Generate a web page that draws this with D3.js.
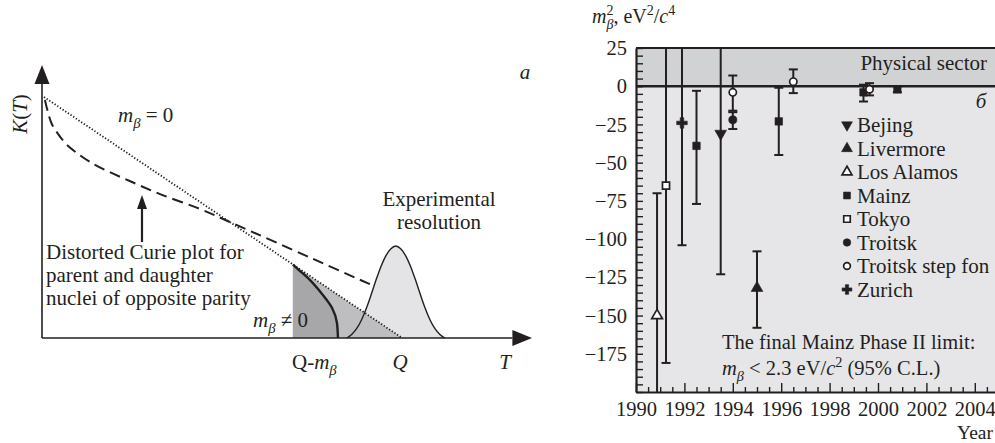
<!DOCTYPE html>
<html><head><meta charset="utf-8">
<script src="https://cdn.jsdelivr.net/npm/d3@7"></script>
<style>
body{margin:0;background:#fff}
svg{display:block}
svg text{font-family:"Liberation Serif","Tinos","Times New Roman","Nimbus Roman","DejaVu Serif",serif !important;fill:#231f20;white-space:pre}
</style>
</head><body>
<svg id="c" width="995" height="443" font-family="Liberation Serif, Times New Roman, DejaVu Serif, serif"></svg>
<script>
// ================= DATA =================
// Panel a (schematic, arbitrary units: T 0..100, K 0..100)
const curieT = [0.4, 73.5];
const curieK = [88.3, 0];
const distortedT = [0.6, 1.2, 2.0, 3.3, 4.9, 7.1, 9.8, 13.3, 17.9, 24.1, 32.2, 39.2, 55.3, 67.3];
const distortedK = [87.2, 82.8, 78.4, 74.7, 71.1, 67.8, 64.5, 61.2, 57.5, 52.7, 47.3, 41.8, 29.0, 19.4];
const massiveT = [51.2, 52.5, 54.7, 57.3, 59.2, 60.2, 60.4];
const massiveK = [26.9, 24.8, 21.2, 15.8, 11.0, 5.5, 0];
const resolutionT = [62.2, 63.2, 64.2, 65.2, 66.2, 67.2, 68.2, 69.2, 70.2, 71.2, 72.2, 73.2, 74.2, 75.2, 76.2, 77.2, 78.2, 79.2, 80.2, 81.2, 82.2];
const resolutionK = [0, 1.3, 3.4, 6.6, 10.9, 16.0, 21.4, 26.3, 30.2, 32.7, 33.7, 32.7, 30.2, 26.3, 21.4, 16.0, 10.9, 6.6, 3.4, 1.3, 0];

// Panel б (measurements)
const labs = ["Bejing", "Livermore", "Los Alamos", "Mainz", "Tokyo", "Troitsk", "Troitsk step fon", "Zurich"];
const pointLab  = ["Los Alamos", "Tokyo", "Zurich", "Mainz", "Bejing", "Troitsk step fon", "Troitsk", "Livermore", "Mainz", "Troitsk step fon", "Mainz", "Troitsk step fon", "Mainz"];
const pointYear = [1990.87, 1991.24, 1991.9, 1992.5, 1993.5, 1994.0, 1994.0, 1995.0, 1995.9, 1996.5, 1999.4, 1999.65, 2000.8];
const pointM2   = [-150, -65, -24, -39, -31, -4, -22, -132, -23, 3, -4, -2, -2];
const errHigh   = [-70, 60, 60, -3, 60, 7, -17, -108, -1, 11, 1, 2, 0];
const errLow    = [-240, -181, -104, -77, -123, -16, -28, -158, -45, -4.5, -10, -6, -4];
const yTickLabels = [25, 0, -25, -50, -75, -100, -125, -150, -175];
const xTickLabels = [1990, 1992, 1994, 1996, 1998, 2000, 2002, 2004];

// ================= DRAW =================
const ink = "#231f20";
const FONT = "Liberation Serif, Times New Roman, DejaVu Serif, serif";
const svg = d3.select("#c");

function rich(parent, x, y, parts, size, anchor) {
  const g = parent.append("g");
  let cx = 0, stackStart = null, stackW = 0;
  parts.forEach(p => {
    const fs = p.s ? size * 0.7 : size;
    const dy = p.s === "sup" ? -size * 0.4 : p.s === "sub" ? size * 0.3 : 0;
    const startX = stackStart !== null ? stackStart : cx;
    const t = g.append("text").attr("x", startX).attr("y", dy)
      .attr("font-size", fs).attr("xml:space", "preserve").attr("font-family", FONT)
      .attr("font-style", p.i ? "italic" : "normal").text(p.t);
    const w = t.node().getComputedTextLength();
    if (p.stack) { stackStart = startX; stackW = w; cx = startX + w; }
    else if (stackStart !== null) { cx = startX + Math.max(w, stackW); stackStart = null; }
    else cx = startX + w;
  });
  const off = anchor === "end" ? -cx : anchor === "middle" ? -cx / 2 : 0;
  g.attr("transform", `translate(${x + off},${y})`);
  return g;
}
function txt(g, x, y, s, size, anchor, italic) {
  return g.append("text").attr("x", x).attr("y", y).attr("text-anchor", anchor || "start")
    .attr("font-size", size).attr("font-family", FONT).attr("font-style", italic ? "italic" : "normal").text(s);
}

// ---------- Panel a ----------
const xL = d3.scaleLinear().domain([0, 100]).range([42, 532]);
const yL = d3.scaleLinear().domain([0, 100]).range([338, 65]);
const gA = svg.append("g");
const lineL = d3.line().x(d => xL(d[0])).y(d => yL(d[1]));

const resPts = resolutionT.map((t, i) => [t, resolutionK[i]]);
const massPts = massiveT.map((t, i) => [t, massiveK[i]]);
const distPts = distortedT.map((t, i) => [t, distortedK[i]]);
const curiePts = curieT.map((t, i) => [t, curieK[i]]);

gA.append("path").datum(resPts)
  .attr("d", d3.line().x(d => xL(d[0])).y(d => yL(d[1])).curve(d3.curveMonotoneX))
  .attr("fill", "#e4e4e6").attr("stroke", "none");
const k0 = curieK[0] + (curieK[1] - curieK[0]) * (massiveT[0] - curieT[0]) / (curieT[1] - curieT[0]);
gA.append("path").datum([[massiveT[0], 0], [massiveT[0], k0], [curieT[1], 0]])
  .attr("d", lineL).attr("fill", "#bebec0");
gA.append("path").datum([[massiveT[0], 0]].concat(massPts))
  .attr("d", d3.line().x(d => xL(d[0])).y(d => yL(d[1])).curve(d3.curveMonotoneY))
  .attr("fill", "#a7a7a9");
gA.append("path").datum(resPts)
  .attr("d", d3.line().x(d => xL(d[0])).y(d => yL(d[1])).curve(d3.curveMonotoneX))
  .attr("fill", "none").attr("stroke", ink).attr("stroke-width", 1.4);
gA.append("path").datum(massPts)
  .attr("d", d3.line().x(d => xL(d[0])).y(d => yL(d[1])).curve(d3.curveMonotoneY))
  .attr("fill", "none").attr("stroke", ink).attr("stroke-width", 2.4);
gA.append("path").datum(curiePts).attr("d", lineL)
  .attr("fill", "none").attr("stroke", ink).attr("stroke-width", 1.8).attr("stroke-dasharray", "1.3,1.9");
gA.append("path").datum(distPts)
  .attr("d", d3.line().x(d => xL(d[0])).y(d => yL(d[1])).curve(d3.curveCatmullRom))
  .attr("fill", "none").attr("stroke", ink).attr("stroke-width", 2).attr("stroke-dasharray", "11,6");

gA.append("line").attr("x1", xL(0)).attr("x2", xL(0)).attr("y1", yL(0)).attr("y2", yL(93))
  .attr("stroke", ink).attr("stroke-width", 1.6);
gA.append("line").attr("x1", xL(0)).attr("x2", xL(96)).attr("y1", yL(0)).attr("y2", yL(0))
  .attr("stroke", ink).attr("stroke-width", 1.6);
gA.append("path").attr("d", `M${xL(0)},${yL(100)} L${xL(0) - 7.5},${yL(93)} L${xL(0) + 7.5},${yL(93)} Z`).attr("fill", ink);
gA.append("path").attr("d", `M${xL(100)},${yL(0)} L${xL(96)},${yL(0) - 8} L${xL(96)},${yL(0) + 8} Z`).attr("fill", ink);

gA.append("line").attr("x1", 142).attr("x2", 142).attr("y1", 242).attr("y2", 205)
  .attr("stroke", ink).attr("stroke-width", 2.2);
gA.append("path").attr("d", "M142,195 L137,209 L147,209 Z").attr("fill", ink);

const fsA = 21;
const kt = gA.append("text").attr("transform", "translate(27,114) rotate(-90)")
  .attr("text-anchor", "middle").attr("font-size", fsA).attr("font-family", FONT);
kt.append("tspan").attr("font-style", "italic").text("K");
kt.append("tspan").text("(");
kt.append("tspan").attr("font-style", "italic").text("T");
kt.append("tspan").text(")");
rich(gA, 118, 122, [{t: "m", i: true}, {t: "β", i: true, s: "sub"}, {t: " = 0"}], fsA);
rich(gA, 253, 327, [{t: "m", i: true}, {t: "β", i: true, s: "sub"}, {t: " ≠ 0"}], fsA);
rich(gA, 292, 369, [{t: "Q-"}, {t: "m", i: true}, {t: "β", i: true, s: "sub"}], fsA);
txt(gA, 400, 369, "Q", fsA, "middle", true);
txt(gA, 505, 369, "T", fsA, "middle", true);
txt(gA, 525, 79, "a", fsA, "middle", true);
["Experimental", "resolution"].forEach((s, i) => txt(gA, 439, 206 + i * 23, s, fsA, "middle"));
["Distorted Curie plot for", "parent and daughter", "nuclei of opposite parity"].forEach((s, i) =>
  txt(gA, 46, 259 + i * 23, s, fsA));

// ---------- Panel б ----------
const x = d3.scaleLinear().domain([1990, 2005]).range([636, 999]);
const y = d3.scaleLinear().domain([-200, 25]).range([392, 48]);
const gB = svg.append("g");

gB.append("rect").attr("x", x(1990)).attr("y", y(25)).attr("width", x(2005) - x(1990)).attr("height", y(0) - y(25)).attr("fill", "#d1d2d4");
gB.append("rect").attr("x", x(1990)).attr("y", y(0)).attr("width", x(2005) - x(1990)).attr("height", y(-200) - y(0)).attr("fill", "#e6e6e8");

svg.append("defs").append("clipPath").attr("id", "clipB")
  .append("rect").attr("x", x(1990)).attr("y", y(25)).attr("width", x(2005) - x(1990)).attr("height", y(-200) - y(25));

const yTicks = d3.range(-200, 26, 5);
const yAx = gB.append("g").attr("transform", `translate(${x(1990)},0)`)
  .call(d3.axisLeft(y).tickValues(yTicks).tickSizeInner(-7).tickSizeOuter(0).tickPadding(9)
    .tickFormat(d => yTickLabels.includes(d) ? (d < 0 ? "−" + Math.abs(d) : String(d)) : ""));
yAx.attr("font-family", FONT);
yAx.select(".domain").attr("stroke", ink).attr("stroke-width", 2.2);
yAx.selectAll(".tick line").attr("stroke", ink).attr("stroke-width", 1.4);
yAx.selectAll(".tick text").attr("font-size", 20.5).attr("font-family", FONT).attr("fill", ink);

const xTicks = d3.range(1990, 2005.01, 0.5);
const xAx = gB.append("g").attr("transform", `translate(0,${y(-200)})`)
  .call(d3.axisBottom(x).tickValues(xTicks).tickSizeInner(-5).tickSizeOuter(0).tickPadding(9)
    .tickFormat(d => xTickLabels.includes(d) ? String(d) : ""));
xAx.attr("font-family", FONT);
xAx.select(".domain").attr("stroke", ink).attr("stroke-width", 2.2);
xAx.selectAll(".tick line").attr("stroke", ink).attr("stroke-width", 1.4)
  .attr("y2", d => (d % 2 === 0 ? -9 : -5));
xAx.selectAll(".tick text").attr("font-size", 20.5).attr("font-family", FONT).attr("fill", ink);

gB.append("line").attr("x1", x(1990)).attr("x2", x(2005)).attr("y1", y(25)).attr("y2", y(25)).attr("stroke", ink).attr("stroke-width", 2.2);
gB.append("line").attr("x1", x(1990)).attr("x2", x(2005)).attr("y1", y(0)).attr("y2", y(0)).attr("stroke", ink).attr("stroke-width", 2.6);

const markerStyle = {
  "Bejing": {type: d3.symbolTriangle, size: 60, rot: 180, fill: ink},
  "Livermore": {type: d3.symbolTriangle, size: 60, rot: 0, fill: ink},
  "Los Alamos": {type: d3.symbolTriangle, size: 50, rot: 0, fill: "#fff"},
  "Mainz": {type: d3.symbolSquare, size: 56, rot: 0, fill: ink},
  "Tokyo": {type: d3.symbolSquare, size: 50, rot: 0, fill: "#fff"},
  "Troitsk": {type: d3.symbolCircle, size: 52, rot: 0, fill: ink},
  "Troitsk step fon": {type: d3.symbolCircle, size: 42, rot: 0, fill: "#fff"},
  "Zurich": {type: d3.symbolCross, size: 62, rot: 0, fill: ink}
};
function marker(g, lab, cx, cy, scale) {
  const st = markerStyle[lab];
  g.append("path").attr("d", d3.symbol().type(st.type).size(st.size * scale)())
    .attr("transform", `translate(${cx},${cy}) rotate(${st.rot})`)
    .attr("fill", st.fill).attr("stroke", ink).attr("stroke-width", st.fill === ink ? 0.6 : 1.7);
}

const gData = gB.append("g").attr("clip-path", "url(#clipB)");
pointYear.forEach((yr, i) => {
  const cx = x(yr);
  gData.append("line").attr("x1", cx).attr("x2", cx).attr("y1", y(errHigh[i])).attr("y2", y(errLow[i]))
    .attr("stroke", ink).attr("stroke-width", 2);
  [errHigh[i], errLow[i]].forEach(v =>
    gData.append("line").attr("x1", cx - 4.5).attr("x2", cx + 4.5).attr("y1", y(v)).attr("y2", y(v))
      .attr("stroke", ink).attr("stroke-width", 2));
});
pointYear.forEach((yr, i) => marker(gData, pointLab[i], x(yr), y(pointM2[i]), 1));

labs.forEach((lab, i) => {
  const cy = 125 + i * 23.5;
  marker(gB, lab, 847, cy, 0.85);
  txt(gB, 857, cy + 7, lab, 21);
});

txt(gB, 987, 70, "Physical sector", 21, "end");
txt(gB, 981, 108, "б", 21, "middle", true);
txt(gB, 722, 349, "The final Mainz Phase II limit:", 20.5);
rich(gB, 722, 375, [{t: "m", i: true}, {t: "β", i: true, s: "sub"}, {t: " < 2.3 eV/"}, {t: "c", i: true}, {t: "2", s: "sup"}, {t: " (95% C.L.)"}], 20.5);
rich(gB, 592, 23, [{t: "m", i: true}, {t: "β", i: true, s: "sub", stack: true}, {t: "2", s: "sup"}, {t: ", eV"}, {t: "2", s: "sup"}, {t: "/"}, {t: "c", i: true}, {t: "4", s: "sup"}], 20);
txt(gB, 975, 439, "Year", 19.5, "middle");
</script>
</body></html>
